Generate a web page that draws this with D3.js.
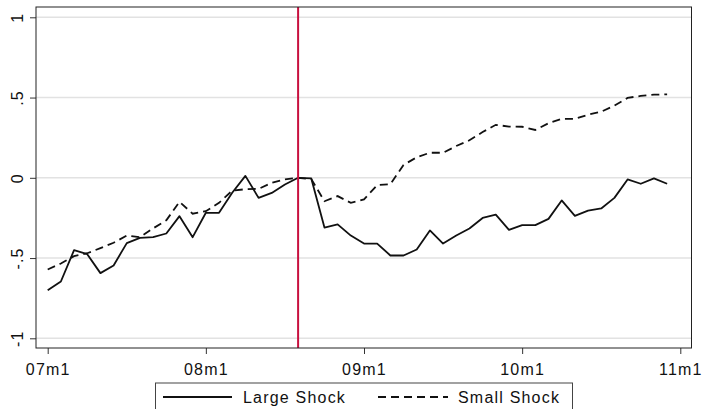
<!DOCTYPE html>
<html>
<head>
<meta charset="utf-8">
<script src="https://cdn.jsdelivr.net/npm/d3@7"></script>
<style>
  html, body { margin: 0; padding: 0; background: #fff; }
  svg { display: block; }
  text { font-family: "Liberation Sans", Arial, sans-serif; fill: #111; }
</style>
</head>
<body>
<svg id="chart" width="703" height="409"></svg>
<script>
// Monthly responses, 2007m1 .. 2010m12 (index 0 = 07m1)
const monthIndex = d3.range(48);

const largeShock = [
  -0.700, -0.646, -0.451, -0.476, -0.594, -0.546, -0.407, -0.374, -0.370, -0.347, -0.239, -0.370,
  -0.218, -0.218, -0.093,  0.012, -0.125, -0.094, -0.042,  0.000, -0.004, -0.310, -0.290, -0.360,
  -0.410, -0.410, -0.484, -0.484, -0.447, -0.328, -0.410, -0.360, -0.316, -0.250, -0.230, -0.324,
  -0.295, -0.295, -0.256, -0.141, -0.237, -0.204, -0.191, -0.125, -0.010, -0.037, -0.004, -0.037
];

const smallShock = [
  -0.571, -0.534, -0.488, -0.470, -0.438, -0.405, -0.360, -0.370, -0.315, -0.265, -0.150, -0.224,
  -0.208, -0.156, -0.080, -0.071, -0.069, -0.031, -0.010,  0.000, -0.008, -0.146, -0.114, -0.156,
  -0.135, -0.045, -0.040,  0.080,  0.128,  0.156,  0.156,  0.198,  0.234,  0.285,  0.330,  0.319,
   0.318,  0.298,  0.340,  0.367,  0.367,  0.393,  0.412,  0.450,  0.498,  0.510,  0.518,  0.520
];

const xTickValues = [0, 12, 24, 36, 48];
const xTickLabels = ["07m1", "08m1", "09m1", "10m1", "11m1"];
const yTickValues = [-1, -0.5, 0, 0.5, 1];
const yTickLabels = ["-1", "-.5", "0", ".5", "1"];
const shockMonth = 19; // 08m8
const legendLabels = ["Large Shock", "Small Shock"];

const svg = d3.select("#chart");

// plot region frame
const frame = { left: 36, top: 7, right: 691.5, bottom: 348 };

const x = d3.scaleLinear().domain([0, 48]).range([47.7, 680.3]);
const y = d3.scaleLinear().domain([-1, 1]).range([338.3, 17.3]);

// grid lines
svg.append("g").selectAll("line").data(yTickValues).join("line")
  .attr("x1", frame.left).attr("x2", frame.right)
  .attr("y1", d => y(d)).attr("y2", d => y(d))
  .attr("stroke", "#e2e2e2").attr("stroke-width", 1.5);

// y axis
const yAxis = d3.axisLeft(y).tickValues(yTickValues)
  .tickFormat((d, i) => yTickLabels[i]).tickSize(6).tickPadding(0);
const gy = svg.append("g").attr("transform", `translate(${frame.left},0)`).call(yAxis);
gy.select(".domain").remove();
gy.selectAll(".tick line").attr("stroke", "#333").attr("stroke-width", 1);
gy.selectAll(".tick text")
  .attr("x", 0).attr("dy", null)
  .attr("transform", "translate(-19,0) rotate(-90)")
  .attr("text-anchor", "middle")
  .attr("dominant-baseline", "central")
  .style("font-size", "16px")
  .style("letter-spacing", "1px")
  .style("fill", "#111");

// x axis
const xAxis = d3.axisBottom(x).tickValues(xTickValues)
  .tickFormat((d, i) => xTickLabels[i]).tickSize(6).tickPadding(10);
const gx = svg.append("g").attr("transform", `translate(0,${frame.bottom})`).call(xAxis);
gx.select(".domain").remove();
gx.selectAll(".tick line").attr("stroke", "#333").attr("stroke-width", 1);
gx.selectAll(".tick text")
  .style("font-size", "16px")
  .style("letter-spacing", "1.2px")
  .style("fill", "#111");

// series
const line = d3.line().x((d, i) => x(monthIndex[i])).y(d => y(d));

svg.append("path").datum(smallShock)
  .attr("d", line).attr("fill", "none")
  .attr("stroke", "#111").attr("stroke-width", 1.8)
  .attr("stroke-dasharray", "8,5");

svg.append("path").datum(largeShock)
  .attr("d", line).attr("fill", "none")
  .attr("stroke", "#111").attr("stroke-width", 1.8)
  .attr("stroke-linejoin", "round");

// shock marker
svg.append("line")
  .attr("x1", x(shockMonth)).attr("x2", x(shockMonth))
  .attr("y1", frame.top).attr("y2", frame.bottom)
  .attr("stroke", "#c8103f").attr("stroke-width", 2);

// frame
svg.append("rect")
  .attr("x", frame.left).attr("y", frame.top)
  .attr("width", frame.right - frame.left).attr("height", frame.bottom - frame.top)
  .attr("fill", "none").attr("stroke", "#222").attr("stroke-width", 1);

// legend
const lg = svg.append("g");
lg.append("rect")
  .attr("x", 155.5).attr("y", 383)
  .attr("width", 417).attr("height", 40)
  .attr("fill", "#fff").attr("stroke", "#444").attr("stroke-width", 1);
lg.append("line").attr("x1", 163).attr("x2", 232).attr("y1", 397).attr("y2", 397)
  .attr("stroke", "#111").attr("stroke-width", 1.8);
lg.append("text").attr("x", 243).attr("y", 403)
  .style("font-size", "16px").style("letter-spacing", "1.2px").text(legendLabels[0]);
lg.append("line").attr("x1", 378).attr("x2", 448).attr("y1", 397).attr("y2", 397)
  .attr("stroke", "#111").attr("stroke-width", 1.8).attr("stroke-dasharray", "8,5");
lg.append("text").attr("x", 458).attr("y", 403)
  .style("font-size", "16px").style("letter-spacing", "1.2px").text(legendLabels[1]);
</script>
</body>
</html>
